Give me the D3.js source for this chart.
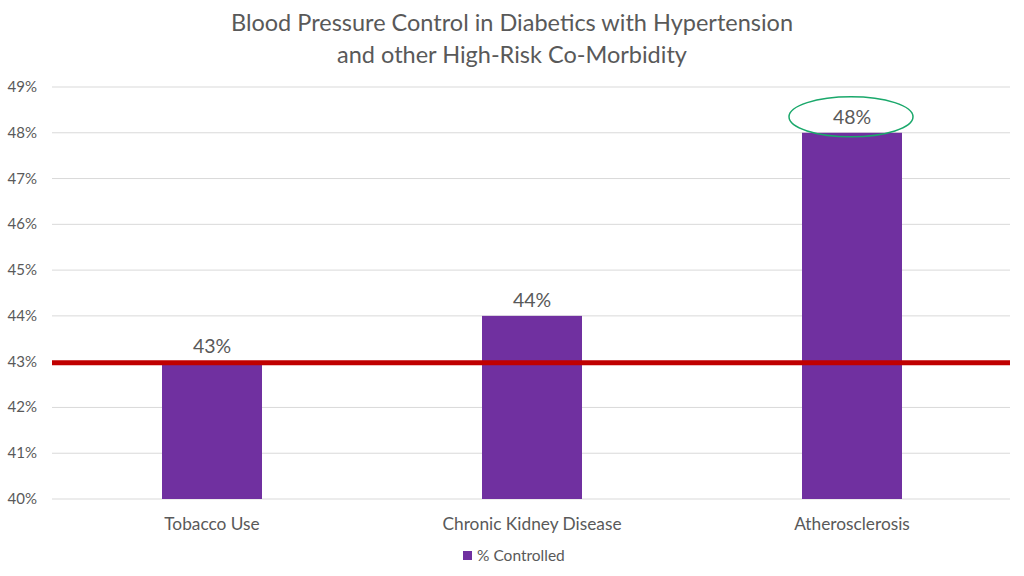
<!DOCTYPE html>
<html>
<head>
<meta charset="utf-8">
<script src="https://cdn.jsdelivr.net/npm/d3@7"></script>
<style>
  body { margin: 0; background: #fff; }
  text { font-family: Lato, "Open Sans", sans-serif; fill: #595959; }
</style>
</head>
<body>
<svg width="1024" height="576"></svg>
<script>
// chart data
const categories = ["Tobacco Use", "Chronic Kidney Disease", "Atherosclerosis"];
const controlled = [43, 44, 48];
const yTicks = [40, 41, 42, 43, 44, 45, 46, 47, 48, 49];
const targetValue = 43;
const titleLines = ["Blood Pressure Control in Diabetics with Hypertension", "and other High-Risk Co-Morbidity"];
const seriesName = "% Controlled";

const svg = d3.select("svg");
// plot box (top is a window global, so dont use that name)
const plotLeft = 52, plotRight = 1012, plotTop = 87, plotBottom = 499;

const x = d3.scaleBand().domain(categories).range([plotLeft, plotRight]).paddingInner(0.6875).paddingOuter(0.34375);
const y = d3.scaleLinear().domain([40, 49]).range([plotBottom, plotTop]);

// title
svg.selectAll(".title")
  .data(titleLines)
  .enter().append("text")
  .attr("x", 512)
  .attr("y", (d, i) => 31 + i * 32)
  .attr("text-anchor", "middle")
  .attr("font-size", 23.5)
  .text(d => d);

// grid lines
svg.selectAll(".grid")
  .data(yTicks)
  .enter().append("line")
  .attr("x1", plotLeft).attr("x2", plotRight - 2)
  .attr("y1", d => y(d)).attr("y2", d => y(d))
  .attr("stroke", "#d9d9d9")
  .attr("stroke-width", 1);

// y axis labels
svg.selectAll(".ylab")
  .data(yTicks)
  .enter().append("text")
  .attr("x", 37)
  .attr("y", d => y(d) + 5)
  .attr("text-anchor", "end")
  .attr("font-size", 15)
  .text(d => d + "%");

// bars
const data = categories.map((c, i) => ({ cat: c, val: controlled[i] }));
svg.selectAll(".bar")
  .data(data)
  .enter().append("rect")
  .attr("x", d => x(d.cat))
  .attr("width", x.bandwidth())
  .attr("y", d => y(d.val))
  .attr("height", d => y(40) - y(d.val))
  .attr("fill", "#7030a0");

// target line
svg.append("line")
  .attr("x1", plotLeft).attr("x2", plotRight - 2)
  .attr("y1", y(targetValue) + 1).attr("y2", y(targetValue) + 1)
  .attr("stroke", "#c00000")
  .attr("stroke-width", 5);

// value labels
svg.selectAll(".vlab")
  .data(data)
  .enter().append("text")
  .attr("x", d => x(d.cat) + x.bandwidth() / 2)
  .attr("y", d => y(d.val) - 9)
  .attr("text-anchor", "middle")
  .attr("font-size", 19.5)
  .text(d => d.val + "%");

// ellipse highlight on the max bar
const maxBar = data[2];
svg.append("ellipse")
  .attr("cx", x(maxBar.cat) + x.bandwidth() / 2 - 1)
  .attr("cy", y(maxBar.val) - 16)
  .attr("rx", 62)
  .attr("ry", 20)
  .attr("fill", "none")
  .attr("stroke", "#1aa86b")
  .attr("stroke-width", 1.5);

// category labels
svg.selectAll(".xlab")
  .data(categories)
  .enter().append("text")
  .attr("x", d => x(d) + x.bandwidth() / 2)
  .attr("y", 530)
  .attr("text-anchor", "middle")
  .attr("font-size", 17.3)
  .text(d => d);

// legend
svg.append("rect")
  .attr("x", 463).attr("y", 551)
  .attr("width", 9).attr("height", 9)
  .attr("fill", "#7030a0");
svg.append("text")
  .attr("x", 477).attr("y", 561)
  .attr("font-size", 15.5)
  .text(seriesName);
</script>
</body>
</html>
